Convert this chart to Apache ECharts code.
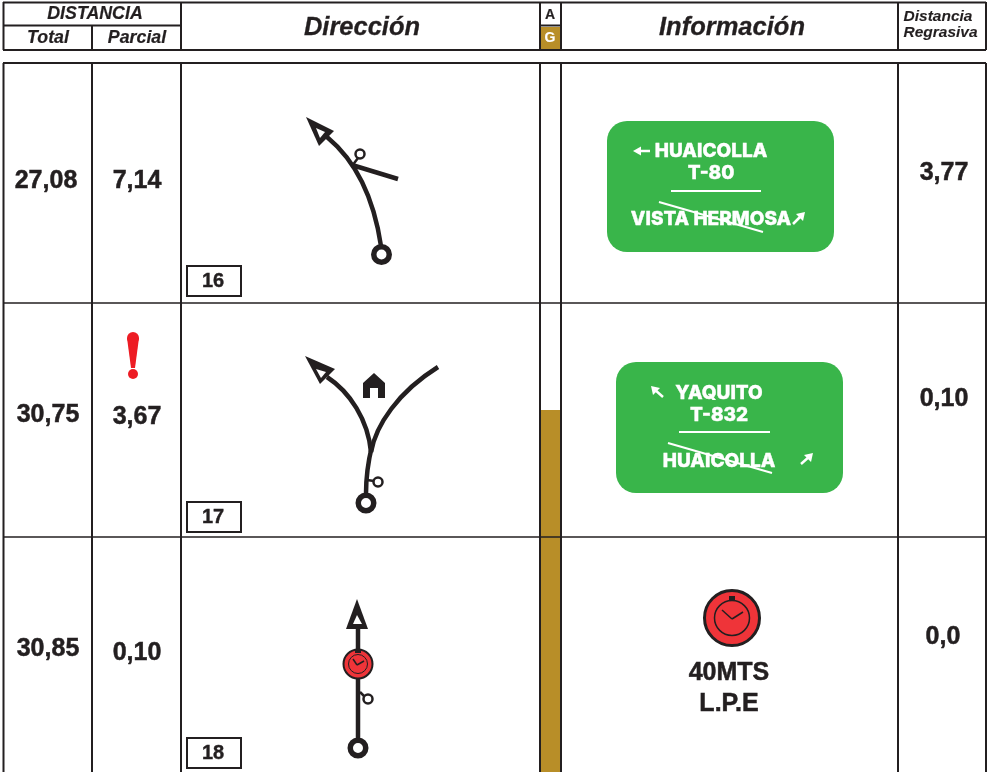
<!DOCTYPE html>
<html>
<head>
<meta charset="utf-8">
<title>Roadbook</title>
<script src="https://cdn.jsdelivr.net/npm/echarts@6/dist/echarts.min.js"></script>
<style>
html, body { margin: 0; padding: 0; background: #fff; }
#main { width: 988px; height: 772px; }
</style>
</head>
<body>
<div id="main"></div>
<script>
// textos de la hoja de ruta
const totals = ['27,08', '30,75', '30,85'];
const partials = ['7,14', '3,67', '0,10'];
const regressive = ['3,77', '0,10', '0,0'];
const boxNumbers = ['16', '17', '18'];
const signLines = ['HUAICOLLA', 'T-80', 'VISTA HERMOSA', 'YAQUITO', 'T-832', 'HUAICOLLA'];
const clockNotes = ['40MTS', 'L.P.E'];

// posiciones de esos textos
const totalPos = [[46, 181.5], [48, 415.5], [48, 649.5]];
const partialPos = [[137, 181.5], [137, 417], [137, 653]];
const regressivePos = [[944, 173], [944, 399.5], [943, 637.5]];
const boxPos = [[213, 281.5], [213, 517.5], [213, 753.5]];
const signPos = [[711, 151.5], [711, 173.5], [711, 219.5], [719, 393.5], [719, 415.5], [719, 461.5]];
const notePos = [[729, 673], [729, 704]];

// trazos de las vinetas: inicio, control, control, fin
const curves = [
  [[381, 246], [373.7, 197], [355.7, 160.7], [327, 137]],
  [[366, 494], [366, 475], [369, 458], [372, 446]],
  [[371, 452], [368, 420], [350, 392], [327, 377]],
  [[371, 452], [376, 425], [398, 392], [438, 367]]
];
const straightTracks = [[358, 740, 358, 625], [352, 165, 398, 179]];
const stems = [[352, 166, 358, 158], [367, 480, 374, 481], [360, 692, 365, 697], [358, 647, 358, 651], [732, 599, 732, 604]];

const arrowOuter = [
  [[306, 117], [334, 131], [319, 146]],
  [[305, 356], [335, 369], [320, 384]],
  [[357, 599], [346, 629], [368, 629]]
];
const arrowInner = [
  [[316, 128], [325, 132], [320, 138]],
  [[316, 369], [326, 372], [321, 378]],
  [[357, 615], [353, 624], [362, 624]]
];
const house = [[374, 373], [385, 383], [385, 398], [378, 398], [378, 388], [370, 388], [370, 398], [363, 398], [363, 383]];
const bang = [[127, 338], [139, 338], [135, 368], [131, 368]];
const bangDots = [[133, 338, 12], [133, 374, 10]];

const bigRings = [[381.5, 254.5], [366, 503], [358, 748]];
const smallRings = [[360, 154], [378, 482], [368, 699]];

// tablas
const heavyRules = [
  [3, 2.5, 986, 2.5], [3, 50, 986, 50], [3, 25.5, 181, 25.5], [540, 25.5, 561, 25.5],
  [3.5, 2, 3.5, 50], [92, 25.5, 92, 50], [181, 2, 181, 50], [540, 2, 540, 50], [561, 2, 561, 50], [898, 2, 898, 50], [986, 2, 986, 50],
  [3, 63, 986, 63], [3.5, 63, 3.5, 772], [92, 63, 92, 772], [181, 63, 181, 772], [540, 63, 540, 772], [561, 63, 561, 772], [898, 63, 898, 772], [986, 63, 986, 772]
];
const thinRules = [[3, 303, 986, 303], [3, 537, 986, 537]];
const altitudeFill = [[541, 27, 560, 49], [541, 410, 560, 772]];
const numberBoxes = [[187, 266, 241, 296], [187, 502, 241, 532], [187, 738, 241, 768]];

// carteles
const signBoxes = [[607, 121, 834, 252], [616, 362, 843, 493]];
const signRules = [[671, 191, 761, 191], [659, 202, 763, 232], [679, 432, 770, 432], [668, 443, 772, 473]];
const signArrowLines = [[650, 151, 638, 151], [793, 224, 801, 216], [663, 397, 654, 389], [801, 464, 810, 456]];
const signArrowHeads = [
  [[633, 151], [641, 146.5], [641, 155.5]],
  [[805, 212], [803, 221], [796, 214]],
  [[651, 386], [660, 388], [653, 395]],
  [[813, 453], [811, 462], [804, 455]]
];

// cronometros: centro x, centro y
const clockFaces = [[358, 664], [732, 618]];
const clockHands = [
  [353, 659, 357, 665], [357, 665, 364, 661],
  [722, 610, 732, 619], [732, 619, 743, 612]
];
const clockKnobs = [[355, 650, 361, 653], [729, 596, 735, 600]];

const INK = '#231f20';
const GREEN = '#39b54a';
const GOLD = '#b88e28';
const RED = '#ef3439';

const firstPoints = list => list.map(d => [d[0], d[1]]);

const segmentSeries = (name, list, color, width, z) => ({
  type: 'custom', name, z, silent: true, animation: false, clip: false,
  data: firstPoints(list),
  renderItem: (params, api) => {
    const s = list[params.dataIndex];
    const a = api.coord([s[0], s[1]]);
    const b = api.coord([s[2], s[3]]);
    return { type: 'line', shape: { x1: a[0], y1: a[1], x2: b[0], y2: b[1] }, style: { stroke: color, lineWidth: width, lineCap: 'butt' } };
  }
});

const curveSeries = (name, list, color, width, z) => ({
  type: 'custom', name, z, silent: true, animation: false, clip: false,
  data: list.map(c => c[0]),
  renderItem: (params, api) => {
    const c = list[params.dataIndex].map(p => api.coord(p));
    return {
      type: 'bezierCurve',
      shape: { x1: c[0][0], y1: c[0][1], cpx1: c[1][0], cpy1: c[1][1], cpx2: c[2][0], cpy2: c[2][1], x2: c[3][0], y2: c[3][1] },
      style: { fill: 'none', stroke: color, lineWidth: width }
    };
  }
});

const rectSeries = (name, list, style, radius, z) => ({
  type: 'custom', name, z, silent: true, animation: false, clip: false,
  data: firstPoints(list),
  renderItem: (params, api) => {
    const s = list[params.dataIndex];
    const a = api.coord([s[0], s[1]]);
    const b = api.coord([s[2], s[3]]);
    return { type: 'rect', shape: { x: a[0], y: a[1], width: b[0] - a[0], height: b[1] - a[1], r: radius }, style };
  }
});

const polySeries = (name, list, style, z) => ({
  type: 'custom', name, z, silent: true, animation: false, clip: false,
  data: list.map(p => p[0]),
  renderItem: (params, api) => ({
    type: 'polygon',
    shape: { points: list[params.dataIndex].map(p => api.coord(p)) },
    style
  })
});

const ringSeries = (name, points, size, border, color, z) => ({
  type: 'scatter', name, z, silent: true, animation: false, clip: false,
  data: points, symbol: 'circle', symbolSize: size,
  itemStyle: { color, borderColor: INK, borderWidth: border, opacity: 1 }
});

const textSeries = (name, labels, points, font, color, weight, z) => ({
  type: 'custom', name, z, silent: true, animation: false, clip: false,
  data: points,
  renderItem: (params, api) => {
    const c = api.coord(points[params.dataIndex]);
    return {
      type: 'text', x: c[0], y: c[1],
      style: { text: labels[params.dataIndex], font, fill: color, stroke: color, lineWidth: weight, align: 'center', verticalAlign: 'middle' }
    };
  }
});

const SANS = '"Liberation Sans", Arial, sans-serif';
const BOLD_25 = 'bold 25px ' + SANS;
const ITALIC_18 = 'italic bold 17.8px ' + SANS;
const ITALIC_25 = 'italic bold 25.5px ' + SANS;
const ITALIC_15 = 'italic bold 15.5px ' + SANS;
const SIGN = '800 19px Inter, sans-serif';

const option = {
  animation: false,
  backgroundColor: '#fff',
  grid: { left: 0, right: 0, top: 0, bottom: 0 },
  xAxis: { type: 'value', min: 0, max: 988, show: false },
  yAxis: { type: 'value', min: 0, max: 772, inverse: true, show: false },
  series: [
    rectSeries('altitude', altitudeFill, { fill: GOLD }, 0, 1),
    segmentSeries('rules', heavyRules, INK, 2, 2),
    segmentSeries('rowRules', thinRules, INK, 1.5, 2),
    rectSeries('numberBoxes', numberBoxes, { fill: '#fff', stroke: INK, lineWidth: 2 }, 0, 3),

    curveSeries('tracks', curves, INK, 4.5, 4),
    segmentSeries('straightTracks', straightTracks, INK, 4.5, 4),
    segmentSeries('stems', stems, INK, 2.5, 4),
    polySeries('arrowOuter', arrowOuter, { fill: INK }, 5),
    polySeries('arrowInner', arrowInner, { fill: '#fff' }, 6),
    polySeries('house', [house], { fill: INK }, 5),
    ringSeries('bigRings', bigRings, 15.5, 5.5, '#fff', 5),
    ringSeries('smallRings', smallRings, 9, 2.5, '#fff', 5),

    polySeries('bang', [bang], { fill: '#ed1c24' }, 5),
    {
      type: 'scatter', name: 'bangDots', z: 5, silent: true, animation: false,
      data: firstPoints(bangDots), symbolSize: (v, p) => bangDots[p.dataIndex][2],
      itemStyle: { color: '#ed1c24', opacity: 1 }
    },

    rectSeries('signs', signBoxes, { fill: GREEN }, 20, 3),
    segmentSeries('signRules', signRules, '#fff', 2, 6),
    segmentSeries('signArrowLines', signArrowLines, '#fff', 2.5, 6),
    polySeries('signArrowHeads', signArrowHeads, { fill: '#fff' }, 6),

    {
      type: 'scatter', name: 'clockFaceSmall', z: 6, silent: true, animation: false,
      data: [clockFaces[0]], symbolSize: 29,
      itemStyle: { color: RED, borderColor: INK, borderWidth: 2, opacity: 1 }
    },
    {
      type: 'scatter', name: 'clockFaceBig', z: 6, silent: true, animation: false,
      data: [clockFaces[1]], symbolSize: 55,
      itemStyle: { color: RED, borderColor: INK, borderWidth: 3, opacity: 1 }
    },
    {
      type: 'scatter', name: 'clockDialSmall', z: 7, silent: true, animation: false,
      data: [clockFaces[0]], symbolSize: 19,
      itemStyle: { color: 'transparent', borderColor: INK, borderWidth: 1, opacity: 1 }
    },
    {
      type: 'scatter', name: 'clockDialBig', z: 7, silent: true, animation: false,
      data: [clockFaces[1]], symbolSize: 35,
      itemStyle: { color: 'transparent', borderColor: INK, borderWidth: 1.5, opacity: 1 }
    },
    segmentSeries('clockHands', clockHands, INK, 1.5, 8),
    rectSeries('clockKnobs', clockKnobs, { fill: INK }, 0, 8),

    textSeries('totals', totals, totalPos, BOLD_25, INK, 0.5, 9),
    textSeries('partials', partials, partialPos, BOLD_25, INK, 0.5, 9),
    textSeries('regressive', regressive, regressivePos, BOLD_25, INK, 0.5, 9),
    textSeries('boxNumbers', boxNumbers, boxPos, 'bold 20px ' + SANS, INK, 0.4, 9),
    textSeries('clockNotes', clockNotes, notePos, BOLD_25, INK, 0.5, 9),
    textSeries('signLines', signLines, signPos, SIGN, '#fff', 0.4, 5),

    textSeries('headDist', ['DISTANCIA', 'Total', 'Parcial'], [[95, 14.5], [48, 38.5], [137, 38.5]], ITALIC_18, INK, 0.2, 9),
    textSeries('headMain', ['Dirección', 'Información'], [[362, 28], [732, 28]], ITALIC_25, INK, 0.3, 9),
    textSeries('headA', ['A'], [[550, 15.5]], 'bold 14px ' + SANS, INK, 0.2, 9),
    textSeries('headG', ['G'], [[550, 38.5]], 'bold 14px ' + SANS, '#fff', 0.2, 9),
    textSeries('headRegr', ['Distancia', 'Regrasiva'], [[938, 16.5], [940.5, 32.5]], ITALIC_15, INK, 0.1, 9)
  ]
};

const chart = echarts.init(document.getElementById('main'));
chart.setOption(option);
</script>
</body>
</html>
